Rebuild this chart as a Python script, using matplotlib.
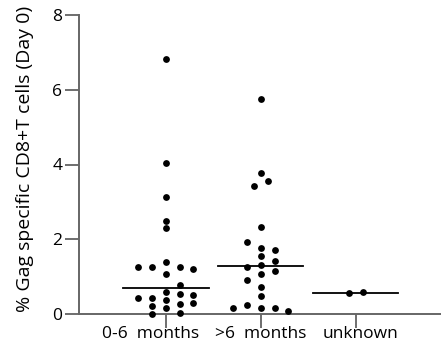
import numpy as np
import matplotlib
matplotlib.use("Agg")
import matplotlib.pyplot as plt
import matplotlib.transforms as mtransforms

plt.rcParams['font.family'] = ['Open Sans', 'DejaVu Sans']

groups = ['0-6  months', '>6  months', 'unknown']

# % Gag specific CD8+ T cells at day 0, one entry per subject
early = [6.82, 4.03, 3.14, 2.50, 2.29, 1.26, 1.26, 1.38, 1.26, 1.21, 1.06,
         0.78, 0.60, 0.44, 0.44, 0.37, 0.53, 0.52, 0.22, 0.17, 0.27, 0.29,
         0.01, 0.02]
late = [5.75, 3.78, 3.56, 3.42, 2.32, 1.92, 1.76, 1.70, 1.55, 1.43, 1.30,
        1.26, 1.15, 1.06, 0.90, 0.71, 0.48, 0.15, 0.24, 0.15, 0.15, 0.09]
unknown = [0.55, 0.60]

# column lane of each dot inside its scatter column
early_lane = [0, 0, 0, 0, 0, -2, -1, 0, 1, 2, 0,
              1, 0, -2, -1, 0, 1, 2, -1, 0, 1, 2,
              -1, 1]
late_lane = [0, 0, 0.5, -0.5, 0, -1, 0, 1, 0, 1, 0,
             -1, 1, 0, -1, 0, 0, -2, -1, 0, 1, 2]
unknown_lane = [-0.5, 0.5]

values = [early, late, unknown]
lanes = [early_lane, late_lane, unknown_lane]

lane_w = 0.145
half_line = 0.45

fig = plt.figure(figsize=(4.41, 3.47), dpi=100)
ax = fig.add_axes([79 / 441, 33 / 347, 362 / 441, 299 / 347])

for i, (v, ln) in enumerate(zip(values, lanes)):
    x = i + lane_w * np.array(ln)
    ax.scatter(x, v, s=24, color='black', linewidths=0, zorder=3, clip_on=False)
    m = np.median(v)
    ax.plot([i - half_line, i + half_line], [m, m], color='black', lw=1.3, zorder=2)

ax.set_xlim(-0.917, 2.9)
ax.set_ylim(0, 8)
ax.set_yticks([0, 2, 4, 6, 8])
ax.set_xticks(range(len(groups)))
ax.set_xticklabels(groups)

for side in ['top', 'right']:
    ax.spines[side].set_visible(False)
for side in ['left', 'bottom']:
    ax.spines[side].set_color('#666666')
    ax.spines[side].set_linewidth(1.4)

ax.tick_params(axis='both', direction='out', length=10, width=1.2,
               color='#555555', labelsize=12.5, labelcolor='black')
ax.tick_params(axis='x', pad=-1)
ax.tick_params(axis='y', pad=2)

# nudge the category labels sideways
shifts = [-15, 0, 5]
for lab, dx in zip(ax.get_xticklabels(), shifts):
    off = mtransforms.ScaledTranslation(dx / 100, 0, fig.dpi_scale_trans)
    lab.set_transform(lab.get_transform() + off)

ax.set_ylabel('% Gag specific CD8+T cells (Day 0)', fontsize=14)
ax.yaxis.set_label_coords(-0.125, 0.52)

fig.savefig('out.png', dpi=100)
